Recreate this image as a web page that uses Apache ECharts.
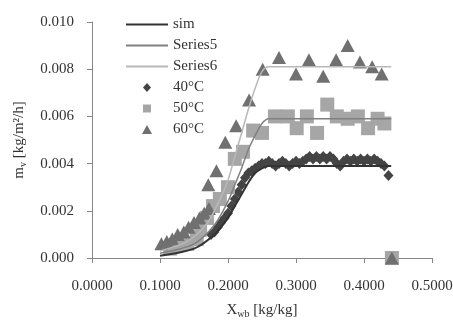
<!DOCTYPE html>
<html><head><meta charset="utf-8">
<script src="https://cdn.jsdelivr.net/npm/echarts@6/dist/echarts.min.js"></script>
<style>html,body{margin:0;padding:0;background:#fff}#c{width:453px;height:320px}</style>
</head><body><div id="c"></div>
<script>
// --- data ---
const xTicks = ['0.0000','0.1000','0.2000','0.3000','0.4000','0.5000'];
const yTicks = ['0.000','0.002','0.004','0.006','0.008','0.010'];

const simX = [0.10,0.15,0.18,0.20,0.21,0.22,0.23,0.24,0.25,0.26,0.44];
const simY = [0.0001,0.0004,0.0010,0.0017,0.0022,0.0027,0.0032,0.0036,0.0038,0.0039,0.0039];
const s5X  = [0.10,0.15,0.18,0.20,0.21,0.22,0.23,0.24,0.25,0.26,0.44];
const s5Y  = [0.0002,0.0006,0.0014,0.0024,0.0031,0.0038,0.0046,0.0052,0.0057,0.0059,0.0059];
const s6X  = [0.10,0.14,0.17,0.19,0.20,0.21,0.22,0.23,0.24,0.25,0.26,0.44];
const s6Y  = [0.0003,0.0007,0.0015,0.0026,0.0033,0.0043,0.0053,0.0063,0.0072,0.0079,0.0081,0.0081];

const x40 = [0.175,0.180,0.185,0.190,0.195,0.200,0.205,0.210,0.215,0.220,0.225,0.230,0.235,0.240,0.245,0.250,0.255,0.260,0.265,0.270,0.275,0.280,0.285,0.290,0.295,0.300,0.305,0.310,0.315,0.320,0.325,0.330,0.335,0.340,0.345,0.350,0.355,0.360,0.365,0.370,0.375,0.380,0.385,0.390,0.395,0.400,0.405,0.410,0.415,0.420,0.425,0.430,0.436];
const y40 = [0.0010,0.0011,0.0013,0.0015,0.0017,0.0019,0.0022,0.0025,0.0028,0.0031,0.0034,0.0036,0.0037,0.0038,0.0039,0.0040,0.0040,0.0041,0.0040,0.0039,0.0040,0.0041,0.0040,0.0039,0.0040,0.0041,0.0040,0.0041,0.0042,0.0043,0.0042,0.0043,0.0042,0.0043,0.0042,0.0043,0.0042,0.0040,0.0039,0.0041,0.0042,0.0041,0.0042,0.0041,0.0042,0.0041,0.0042,0.0041,0.0042,0.0041,0.0040,0.0039,0.0035];

const x50 = [0.115,0.129,0.140,0.154,0.159,0.169,0.178,0.188,0.200,0.210,0.222,0.237,0.250,0.269,0.288,0.301,0.316,0.331,0.346,0.360,0.376,0.391,0.406,0.420,0.430,0.441];
const y50 = [0.0004,0.00055,0.0006,0.0008,0.0012,0.0017,0.0022,0.0025,0.0030,0.0042,0.0045,0.0054,0.0053,0.0060,0.0060,0.0055,0.0060,0.0053,0.0065,0.0060,0.0059,0.0060,0.0055,0.0059,0.0057,0.0000];

const x60 = [0.102,0.110,0.118,0.126,0.135,0.142,0.150,0.158,0.165,0.172,0.171,0.183,0.196,0.212,0.231,0.251,0.275,0.300,0.319,0.340,0.359,0.376,0.394,0.412,0.426,0.441];
const y60 = [0.0006,0.0007,0.0008,0.0010,0.0011,0.0013,0.0015,0.0017,0.0019,0.0021,0.0031,0.0037,0.0049,0.0056,0.0067,0.0080,0.0085,0.0078,0.0084,0.0077,0.0084,0.0090,0.0083,0.0081,0.0078,0.0000];

const zip = (a,b) => a.map((v,i)=>[v,b[i]]);
const serif = '"Liberation Serif","DejaVu Serif",serif';
// legend icons drawn in a 42x11 box (moveTo corners fix the box size)
const box = 'path://M0,0M42,11';
const lineIcon = box + 'M0,4.5H42V6.5H0Z';
const diaIcon = box + 'M21,1L25,5.5L21,10L17,5.5Z';
const sqIcon = box + 'M17,1.5H25V9.5H17Z';
const triIcon = box + 'M21,1L26,10H16Z';

const chart = echarts.init(document.getElementById('c'), null, {renderer:'canvas'});
chart.setOption({
  animation:false,
  backgroundColor:'#fff',
  grid:{left:92,right:21,top:22,bottom:62,containLabel:false,outerBoundsMode:'none'},
  legend:{
    orient:'vertical', left:121, top:12, itemWidth:42, itemHeight:11, itemGap:6,
    symbolKeepAspect:true,
    textStyle:{fontFamily:serif,fontSize:15,color:'#333'},
    data:[
      {name:'sim',icon:lineIcon},
      {name:'Series5',icon:lineIcon},
      {name:'Series6',icon:lineIcon},
      {name:'40°C',icon:diaIcon},
      {name:'50°C',icon:sqIcon},
      {name:'60°C',icon:triIcon}
    ]
  },
  xAxis:{
    type:'value', min:0, max:0.5, interval:0.1,
    axisLine:{lineStyle:{color:'#888',width:1}},
    axisTick:{show:true,length:5,lineStyle:{color:'#888'}},
    splitLine:{show:false},
    axisLabel:{margin:21,fontFamily:serif,fontSize:15,color:'#333',
      formatter:(v)=>xTicks[Math.round(v*10)]},
    name:'{a|X}{s|wb}{a| [kg/kg]}', nameLocation:'middle', nameGap:43,
    nameTextStyle:{fontFamily:serif,color:'#333',
      rich:{a:{fontFamily:serif,fontSize:15,color:'#333'},s:{fontFamily:serif,fontSize:10,color:'#333',padding:[8,0,0,0]}}}
  },
  yAxis:{
    type:'value', min:0, max:0.01, interval:0.002,
    axisLine:{show:true,lineStyle:{color:'#888',width:1}},
    axisTick:{show:true,length:5,lineStyle:{color:'#888'}},
    splitLine:{show:false},
    axisLabel:{margin:18,fontFamily:serif,fontSize:15,color:'#333',
      formatter:(v)=>yTicks[Math.round(v/0.002)]},
    name:'{a|m}{s|v}{a| [kg/m²/h]}', nameLocation:'middle', nameRotate:90, nameGap:64,
    nameTextStyle:{fontFamily:serif,color:'#333',
      rich:{a:{fontFamily:serif,fontSize:15,color:'#333'},s:{fontFamily:serif,fontSize:10,color:'#333',padding:[8,0,0,0]}}}
  },
  series:[
    {name:'sim',type:'line',data:zip(simX,simY),symbol:'none',smooth:0.3,lineStyle:{color:'#333',width:2},itemStyle:{color:'#333'}},
    {name:'Series5',type:'line',data:zip(s5X,s5Y),symbol:'none',smooth:0.3,lineStyle:{color:'#808080',width:1.5},itemStyle:{color:'#808080'}},
    {name:'Series6',type:'line',data:zip(s6X,s6Y),symbol:'none',smooth:0.3,lineStyle:{color:'#b8b8b8',width:1.5},itemStyle:{color:'#b8b8b8'}},
    {name:'40°C',type:'scatter',data:zip(x40,y40),symbol:'diamond',symbolSize:[10,11],itemStyle:{color:'#444',opacity:1}},
    {name:'50°C',type:'scatter',data:zip(x50,y50),symbol:'rect',symbolSize:14,itemStyle:{color:'#a6a6a6',opacity:1}},
    {name:'60°C',type:'scatter',data:zip(x60,y60),symbol:'triangle',symbolSize:[14,13],itemStyle:{color:'#707070',opacity:1}}
  ]
});
</script>
</body></html>
